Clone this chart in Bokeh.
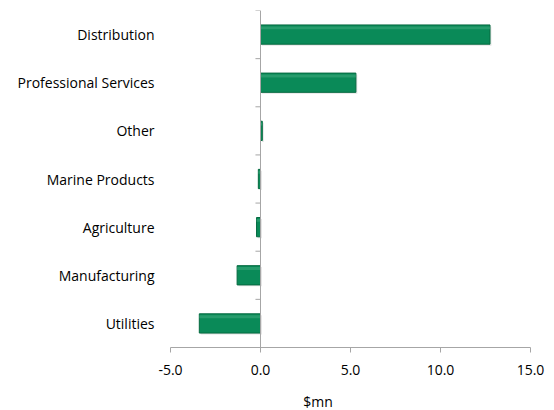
from bokeh.plotting import figure
from bokeh.models import Range1d, FixedTicker, LinearAxis, NumeralTickFormatter
from bokeh.embed import file_html
from bokeh.resources import INLINE

# data (bottom to top)
categories = ["Utilities", "Manufacturing", "Agriculture", "Marine Products",
              "Other", "Professional Services", "Distribution"]
values = [-3.4, -1.3, -0.22, -0.12, 0.1, 5.3, 12.75]
x_ticks = [-5, 0, 5, 10, 15]
x_title = "$mn"
x_title_pos = 3.2

FONT = "Open Sans"
AXIS_COLOR = "#a6a6a6"
TEXT_COLOR = "#000000"

ypos = [i + 0.5 for i in range(len(categories))]

p = figure(frame_width=360, frame_height=337,
           output_backend="svg", toolbar_location=None,
           x_range=Range1d(-5, 15), y_range=Range1d(0, len(categories)),
           min_border_left=170, min_border_right=16, min_border_top=10,
           min_border_bottom=0)
p.outline_line_color = None
p.xgrid.grid_line_color = None
p.ygrid.grid_line_color = None
p.background_fill_color = "white"
p.border_fill_color = "white"

# shadow
p.hbar(y=[y - 0.03 for y in ypos], left=[min(0, v) + 0.08 for v in values],
       right=[max(0, v) + 0.08 for v in values], height=0.4,
       fill_color="#d9d9d9", line_color=None, fill_alpha=0.7)
# bars
p.hbar(y=ypos, left=0, right=values, height=0.4,
       fill_color="#0a8a58", line_color="#066a40", line_width=1)
# highlight strip on top of bar
p.hbar(y=[y + 0.14 for y in ypos], left=0, right=values, height=0.06,
       fill_color="#3aa67a", line_color=None, fill_alpha=0.6)

# vertical category axis line at x=0
p.segment(x0=[0], y0=[0], x1=[0], y1=[len(categories)],
          line_color=AXIS_COLOR, line_width=1)
# category boundary ticks
bounds = list(range(len(categories) + 1))
p.segment(x0=[-0.28] * len(bounds), y0=bounds, x1=[0] * len(bounds), y1=bounds,
          line_color=AXIS_COLOR, line_width=1)

# y axis labels
ya = p.yaxis[0]
ya.ticker = FixedTicker(ticks=ypos)
ya.major_label_overrides = {y: c for y, c in zip(ypos, categories)}
ya.axis_line_color = None
ya.major_tick_line_color = None
ya.minor_tick_line_color = None
ya.major_label_standoff = 10
ya.major_label_text_font = FONT
ya.major_label_text_font_size = "14px"
ya.major_label_text_color = TEXT_COLOR

xa = p.xaxis[0]
xa.ticker = FixedTicker(ticks=x_ticks)
xa.formatter = NumeralTickFormatter(format="0.0")
xa.axis_line_color = AXIS_COLOR
xa.major_tick_line_color = AXIS_COLOR
xa.major_tick_out = 5
xa.major_tick_in = 0
xa.minor_tick_line_color = None
xa.major_label_standoff = 12
xa.major_label_text_font = FONT
xa.major_label_text_font_size = "14px"
xa.major_label_text_color = TEXT_COLOR

# x axis title as a tick-less second axis, positioned at its data location
ta = LinearAxis(ticker=FixedTicker(ticks=[x_title_pos]),
                major_label_overrides={x_title_pos: x_title})
ta.axis_line_color = None
ta.major_tick_line_color = None
ta.minor_tick_line_color = None
ta.major_label_standoff = 8
ta.major_label_text_font = FONT
ta.major_label_text_font_size = "14px"
ta.major_label_text_color = TEXT_COLOR
p.add_layout(ta, "below")

open("out.html", "w").write(file_html(p, INLINE))
